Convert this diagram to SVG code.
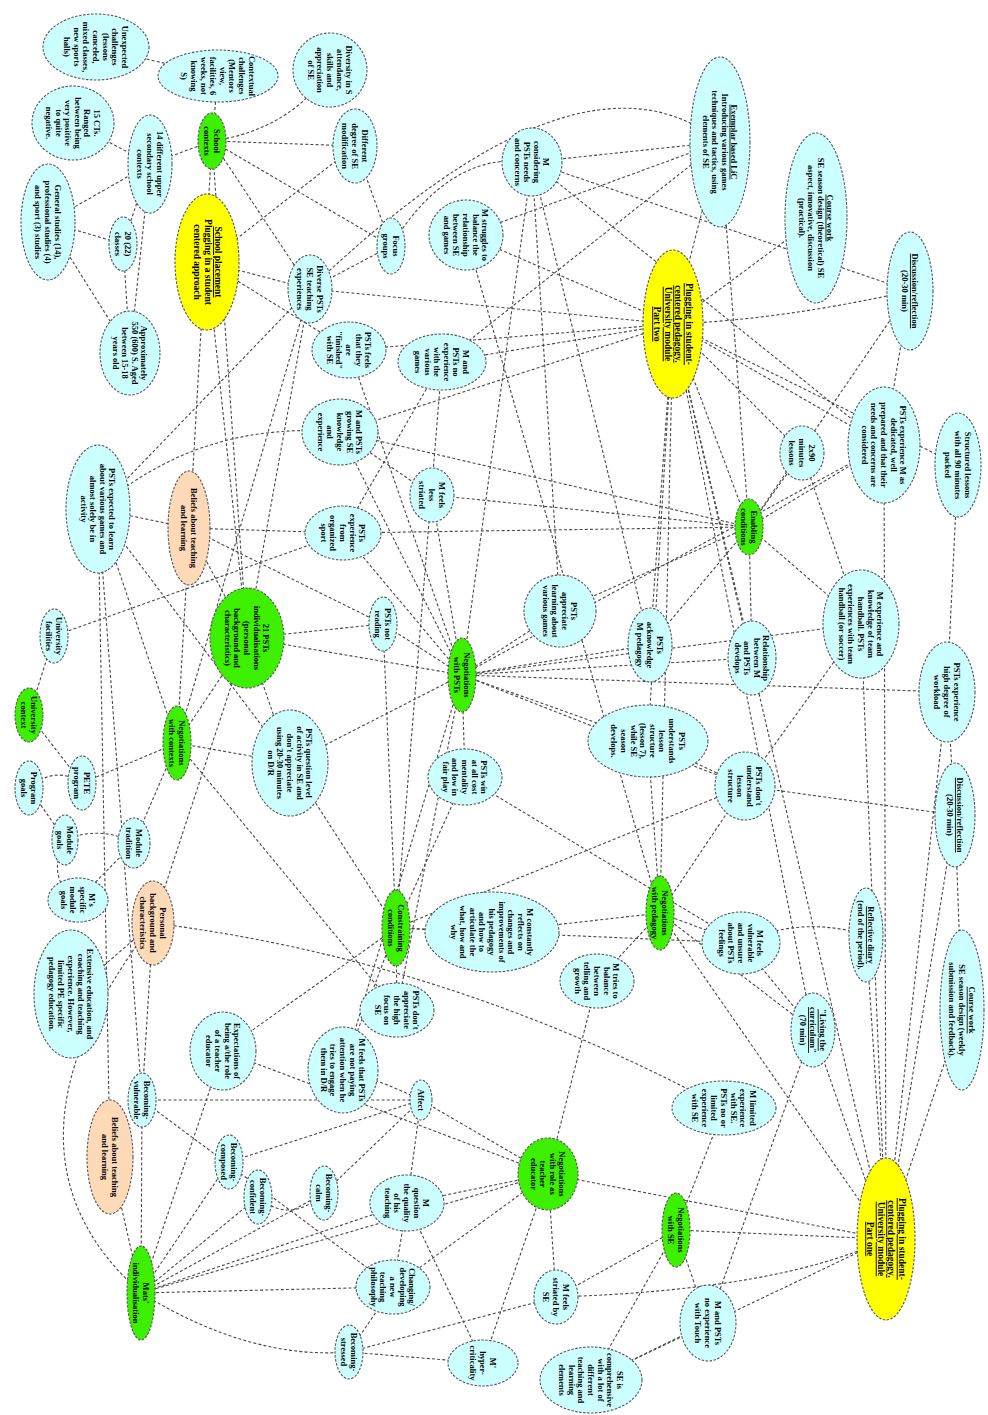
<svg xmlns="http://www.w3.org/2000/svg" width="988" height="1415" viewBox="0 0 988 1415">
<style>
.e{fill:none;stroke:#484848;stroke-width:1.1;stroke-dasharray:3 2.2}
.n ellipse{stroke:#555;stroke-width:1.1;stroke-dasharray:2.5 1.5}
.c{fill:#ccffff}.g{fill:#3cf000}.y{fill:#ffff00}.p{fill:#ffdab9}
text{font-family:"Liberation Serif","Times New Roman",serif;font-weight:bold;font-size:8.5px;text-anchor:middle;fill:#000}
.u{text-decoration:underline}
</style>
<rect width="988" height="1415" fill="#ffffff"/>
<g id="edges" class="e">
<line x1="96" y1="47" x2="218" y2="76"/>
<line x1="218" y1="76" x2="212" y2="141"/>
<path d="M330,70 Q290,130 212,141"/>
<line x1="355" y1="146" x2="212" y2="141"/>
<line x1="212" y1="141" x2="150" y2="164"/>
<line x1="73" y1="123" x2="150" y2="164"/>
<line x1="150" y1="164" x2="48" y2="222"/>
<line x1="150" y1="164" x2="123" y2="244"/>
<line x1="150" y1="164" x2="130" y2="353"/>
<line x1="48" y1="222" x2="123" y2="244"/>
<line x1="48" y1="222" x2="130" y2="353"/>
<line x1="123" y1="244" x2="130" y2="353"/>
<line x1="212" y1="141" x2="310" y2="289"/>
<line x1="212" y1="141" x2="391" y2="246"/>
<line x1="212" y1="141" x2="247" y2="638"/>
<line x1="212" y1="141" x2="177" y2="743"/>
<line x1="207" y1="262" x2="355" y2="146"/>
<line x1="355" y1="146" x2="391" y2="246"/>
<line x1="207" y1="262" x2="310" y2="289"/>
<line x1="207" y1="262" x2="247" y2="638"/>
<line x1="207" y1="262" x2="349" y2="350"/>
<line x1="310" y1="289" x2="391" y2="246"/>
<path d="M310,289 Q580,30 720,142"/>
<line x1="310" y1="289" x2="98" y2="509"/>
<line x1="310" y1="289" x2="673" y2="324"/>
<line x1="310" y1="289" x2="177" y2="743"/>
<line x1="310" y1="289" x2="247" y2="638"/>
<path d="M391,246 Q450,150 532,162"/>
<line x1="532" y1="162" x2="720" y2="142"/>
<line x1="532" y1="162" x2="910" y2="291"/>
<line x1="532" y1="162" x2="884" y2="445"/>
<line x1="532" y1="162" x2="560" y2="611"/>
<line x1="532" y1="162" x2="650" y2="645"/>
<line x1="532" y1="162" x2="462" y2="675"/>
<line x1="466" y1="235" x2="673" y2="324"/>
<line x1="466" y1="235" x2="660" y2="913"/>
<line x1="466" y1="235" x2="720" y2="142"/>
<line x1="673" y1="324" x2="720" y2="142"/>
<line x1="673" y1="324" x2="816" y2="218"/>
<path d="M673,324 Q780,320 910,291"/>
<line x1="673" y1="324" x2="802" y2="453"/>
<line x1="673" y1="324" x2="884" y2="445"/>
<line x1="673" y1="324" x2="958" y2="465"/>
<line x1="673" y1="324" x2="749" y2="527"/>
<line x1="673" y1="324" x2="340" y2="432"/>
<line x1="673" y1="324" x2="650" y2="645"/>
<line x1="673" y1="324" x2="648" y2="741"/>
<line x1="673" y1="324" x2="752" y2="658"/>
<line x1="673" y1="324" x2="660" y2="913"/>
<line x1="673" y1="324" x2="813" y2="1030"/>
<line x1="673" y1="324" x2="349" y2="350"/>
<line x1="673" y1="324" x2="442" y2="362"/>
<line x1="673" y1="324" x2="886" y2="1239"/>
<line x1="720" y1="142" x2="442" y2="362"/>
<line x1="720" y1="142" x2="749" y2="527"/>
<line x1="910" y1="291" x2="884" y2="445"/>
<line x1="910" y1="291" x2="749" y2="527"/>
<line x1="958" y1="465" x2="947" y2="692"/>
<line x1="884" y1="445" x2="749" y2="527"/>
<line x1="884" y1="445" x2="886" y2="1239"/>
<line x1="884" y1="445" x2="462" y2="675"/>
<line x1="802" y1="453" x2="749" y2="527"/>
<line x1="802" y1="453" x2="861" y2="624"/>
<line x1="861" y1="624" x2="749" y2="527"/>
<line x1="861" y1="624" x2="462" y2="675"/>
<line x1="861" y1="624" x2="886" y2="1239"/>
<line x1="861" y1="624" x2="745" y2="786"/>
<line x1="752" y1="658" x2="749" y2="527"/>
<line x1="752" y1="658" x2="462" y2="675"/>
<line x1="947" y1="692" x2="955" y2="815"/>
<line x1="947" y1="692" x2="462" y2="675"/>
<line x1="947" y1="692" x2="886" y2="1239"/>
<line x1="955" y1="815" x2="962" y2="1010"/>
<line x1="955" y1="815" x2="745" y2="786"/>
<line x1="955" y1="815" x2="886" y2="1239"/>
<path d="M866,935 Q800,915 741,943"/>
<line x1="866" y1="935" x2="886" y2="1239"/>
<line x1="962" y1="1010" x2="886" y2="1239"/>
<line x1="813" y1="1030" x2="660" y2="913"/>
<line x1="813" y1="1030" x2="741" y2="943"/>
<line x1="813" y1="1030" x2="886" y2="1239"/>
<line x1="724" y1="1108" x2="676" y2="1230"/>
<path d="M153,923 Q450,960 724,1108"/>
<line x1="886" y1="1239" x2="676" y2="1230"/>
<line x1="886" y1="1239" x2="548" y2="1174"/>
<path d="M886,1239 Q780,1290 556,1297"/>
<line x1="886" y1="1239" x2="660" y2="913"/>
<line x1="886" y1="1239" x2="591" y2="1380"/>
<line x1="676" y1="1230" x2="708" y2="1323"/>
<line x1="676" y1="1230" x2="556" y2="1297"/>
<line x1="676" y1="1230" x2="591" y2="1380"/>
<line x1="708" y1="1323" x2="591" y2="1380"/>
<line x1="708" y1="1323" x2="813" y2="1030"/>
<line x1="548" y1="1174" x2="421" y2="1100"/>
<line x1="548" y1="1174" x2="407" y2="1203"/>
<line x1="548" y1="1174" x2="556" y2="1297"/>
<line x1="548" y1="1174" x2="393" y2="1287"/>
<line x1="548" y1="1174" x2="223" y2="1051"/>
<line x1="548" y1="1174" x2="141" y2="1293"/>
<line x1="548" y1="1174" x2="597" y2="981"/>
<line x1="548" y1="1174" x2="483" y2="1363"/>
<path d="M421,1100 Q380,1080 343,1070"/>
<line x1="421" y1="1100" x2="142" y2="1100"/>
<line x1="421" y1="1100" x2="229" y2="1162"/>
<line x1="421" y1="1100" x2="324" y2="1193"/>
<line x1="421" y1="1100" x2="407" y2="1203"/>
<line x1="407" y1="1203" x2="393" y2="1287"/>
<line x1="407" y1="1203" x2="483" y2="1363"/>
<line x1="407" y1="1203" x2="141" y2="1293"/>
<line x1="393" y1="1287" x2="349" y2="1352"/>
<line x1="393" y1="1287" x2="141" y2="1293"/>
<line x1="393" y1="1287" x2="142" y2="1100"/>
<line x1="556" y1="1297" x2="349" y2="1352"/>
<line x1="349" y1="1352" x2="483" y2="1363"/>
<path d="M349,1352 Q250,1360 141,1293"/>
<line x1="142" y1="1100" x2="141" y2="1293"/>
<line x1="110" y1="1157" x2="141" y2="1293"/>
<line x1="229" y1="1162" x2="141" y2="1293"/>
<line x1="258" y1="1197" x2="141" y2="1293"/>
<path d="M258,1197 Q290,1225 324,1193"/>
<line x1="324" y1="1193" x2="141" y2="1293"/>
<line x1="141" y1="1293" x2="223" y2="1051"/>
<path d="M141,1293 Q-20,1150 153,923"/>
<line x1="223" y1="1051" x2="396" y2="928"/>
<line x1="343" y1="1070" x2="396" y2="928"/>
<line x1="153" y1="923" x2="71" y2="994"/>
<line x1="153" y1="923" x2="247" y2="638"/>
<line x1="153" y1="923" x2="142" y2="1100"/>
<line x1="29" y1="715" x2="54" y2="636"/>
<line x1="29" y1="715" x2="82" y2="783"/>
<path d="M82,783 Q55,765 29,788"/>
<line x1="82" y1="783" x2="177" y2="743"/>
<line x1="29" y1="788" x2="65" y2="840"/>
<path d="M65,840 Q100,825 134,843"/>
<line x1="134" y1="843" x2="177" y2="743"/>
<line x1="134" y1="843" x2="78" y2="900"/>
<path d="M65,840 Q45,880 78,900"/>
<line x1="177" y1="743" x2="290" y2="763"/>
<line x1="177" y1="743" x2="247" y2="638"/>
<line x1="177" y1="743" x2="98" y2="509"/>
<line x1="177" y1="743" x2="397" y2="1010"/>
<line x1="247" y1="638" x2="189" y2="528"/>
<line x1="247" y1="638" x2="383" y2="624"/>
<line x1="247" y1="638" x2="462" y2="675"/>
<line x1="247" y1="638" x2="290" y2="763"/>
<line x1="54" y1="636" x2="343" y2="533"/>
<line x1="189" y1="528" x2="98" y2="509"/>
<line x1="189" y1="528" x2="343" y2="533"/>
<line x1="189" y1="528" x2="383" y2="624"/>
<path d="M98,509 Q200,420 340,432"/>
<line x1="98" y1="509" x2="290" y2="763"/>
<line x1="98" y1="509" x2="110" y2="1157"/>
<line x1="98" y1="509" x2="142" y2="1100"/>
<line x1="462" y1="675" x2="349" y2="350"/>
<line x1="462" y1="675" x2="340" y2="432"/>
<line x1="462" y1="675" x2="432" y2="495"/>
<line x1="462" y1="675" x2="343" y2="533"/>
<line x1="462" y1="675" x2="383" y2="624"/>
<line x1="462" y1="675" x2="560" y2="611"/>
<line x1="462" y1="675" x2="650" y2="645"/>
<line x1="462" y1="675" x2="465" y2="777"/>
<line x1="462" y1="675" x2="648" y2="741"/>
<line x1="462" y1="675" x2="745" y2="786"/>
<line x1="462" y1="675" x2="290" y2="763"/>
<line x1="462" y1="675" x2="397" y2="1010"/>
<line x1="462" y1="675" x2="343" y2="1070"/>
<line x1="749" y1="527" x2="650" y2="645"/>
<line x1="749" y1="527" x2="560" y2="611"/>
<line x1="749" y1="527" x2="340" y2="432"/>
<line x1="749" y1="527" x2="343" y2="533"/>
<line x1="749" y1="527" x2="432" y2="495"/>
<line x1="340" y1="432" x2="432" y2="495"/>
<line x1="396" y1="928" x2="492" y2="932"/>
<line x1="396" y1="928" x2="397" y2="1010"/>
<line x1="396" y1="928" x2="465" y2="777"/>
<line x1="396" y1="928" x2="383" y2="624"/>
<line x1="396" y1="928" x2="290" y2="763"/>
<line x1="396" y1="928" x2="745" y2="786"/>
<line x1="396" y1="928" x2="741" y2="943"/>
<line x1="396" y1="928" x2="442" y2="362"/>
<line x1="660" y1="913" x2="492" y2="932"/>
<line x1="660" y1="913" x2="597" y2="981"/>
<line x1="660" y1="913" x2="741" y2="943"/>
<line x1="660" y1="913" x2="648" y2="741"/>
<line x1="660" y1="913" x2="745" y2="786"/>
<line x1="648" y1="741" x2="745" y2="786"/>
<line x1="465" y1="777" x2="741" y2="943"/>
<line x1="442" y1="362" x2="343" y2="533"/>
</g>
<g id="n1" class="n"><ellipse class="c" cx="96" cy="47" rx="53" ry="33"/><text transform="translate(96,47) rotate(90)"><tspan x="0" y="-25.8">Unexpected</tspan><tspan x="0" dy="9.6">challenges</tspan><tspan x="0" dy="9.6">(lessons</tspan><tspan x="0" dy="9.6">canceled,</tspan><tspan x="0" dy="9.6">mixed classes,</tspan><tspan x="0" dy="9.6">new sports</tspan><tspan x="0" dy="9.6">halls)</tspan></text></g>
<g id="n2" class="n"><ellipse class="c" cx="218" cy="76" rx="60" ry="26"/><text transform="translate(218,76) rotate(90)"><tspan x="0" y="-30.6">Contextual</tspan><tspan x="0" dy="9.6">challenges</tspan><tspan x="0" dy="9.6">(Mentors</tspan><tspan x="0" dy="9.6">view,</tspan><tspan x="0" dy="9.6">facilities, 6</tspan><tspan x="0" dy="9.6">weeks, not</tspan><tspan x="0" dy="9.6">knowing</tspan><tspan x="0" dy="9.6">S)</tspan></text></g>
<g id="n3" class="n"><ellipse class="c" cx="330" cy="70" rx="37" ry="37"/><text transform="translate(330,70) rotate(90)"><tspan x="0" y="-16.2">Diversity in S</tspan><tspan x="0" dy="9.6">attendance,</tspan><tspan x="0" dy="9.6">skills and</tspan><tspan x="0" dy="9.6">appreciation</tspan><tspan x="0" dy="9.6">of SE</tspan></text></g>
<g id="n4" class="n"><ellipse class="c" cx="355" cy="146" rx="22" ry="37"/><text transform="translate(355,146) rotate(90)"><tspan x="0" y="-6.6">Different</tspan><tspan x="0" dy="9.6">degree of SE</tspan><tspan x="0" dy="9.6">modification</tspan></text></g>
<g id="n5" class="n"><ellipse class="g" cx="212" cy="141" rx="14" ry="28"/><text transform="translate(212,141) rotate(90)"><tspan x="0" y="-1.8">School</tspan><tspan x="0" dy="9.6">contexts</tspan></text></g>
<g id="n6" class="n"><ellipse class="c" cx="73" cy="123" rx="41" ry="37"/><text transform="translate(73,123) rotate(90)"><tspan x="0" y="-21">15 CTs.</tspan><tspan x="0" dy="9.6">Ranged</tspan><tspan x="0" dy="9.6">between being</tspan><tspan x="0" dy="9.6">very positive</tspan><tspan x="0" dy="9.6">to quite</tspan><tspan x="0" dy="9.6">negative.</tspan></text></g>
<g id="n7" class="n"><ellipse class="c" cx="150" cy="164" rx="22" ry="49"/><text transform="translate(150,164) rotate(90)"><tspan x="0" y="-6.6">14 different upper</tspan><tspan x="0" dy="9.6">secondary school</tspan><tspan x="0" dy="9.6">contexts</tspan></text></g>
<g id="n8" class="n"><ellipse class="c" cx="48" cy="222" rx="27" ry="58"/><text transform="translate(48,222) rotate(90)"><tspan x="0" y="-6.6">General studies (14),</tspan><tspan x="0" dy="9.6">professional studies (4)</tspan><tspan x="0" dy="9.6">and sport (3) studies</tspan></text></g>
<g id="n9" class="n"><ellipse class="c" cx="123" cy="244" rx="14" ry="27"/><text transform="translate(123,244) rotate(90)"><tspan x="0" y="-1.8">20 (22)</tspan><tspan x="0" dy="9.6">classes</tspan></text></g>
<g id="n10" class="n"><ellipse class="y" cx="207" cy="262" rx="32" ry="68"/><text transform="translate(207,262) rotate(90)" style="font-size:9.5px"><tspan x="0" y="-8" class="u">School placement</tspan><tspan x="0" dy="10.5">Plugging in a student</tspan><tspan x="0" dy="10.5">centered approach</tspan></text></g>
<g id="n11" class="n"><ellipse class="c" cx="130" cy="353" rx="30" ry="42"/><text transform="translate(130,353) rotate(90)"><tspan x="0" y="-11.4">Approximately</tspan><tspan x="0" dy="9.6">550 (600) S. Aged</tspan><tspan x="0" dy="9.6">between 15-18</tspan><tspan x="0" dy="9.6">years old</tspan></text></g>
<g id="n12" class="n"><ellipse class="c" cx="310" cy="289" rx="22" ry="34"/><text transform="translate(310,289) rotate(90)"><tspan x="0" y="-6.6">Diverse PSTs</tspan><tspan x="0" dy="9.6">SE teaching</tspan><tspan x="0" dy="9.6">experiences</tspan></text></g>
<g id="n13" class="n"><ellipse class="c" cx="391" cy="246" rx="14" ry="28"/><text transform="translate(391,246) rotate(90)"><tspan x="0" y="-1.8">Focus</tspan><tspan x="0" dy="9.6">groups</tspan></text></g>
<g id="n14" class="n"><ellipse class="c" cx="532" cy="162" rx="30" ry="34"/><text transform="translate(532,162) rotate(90)"><tspan x="0" y="-11.4">M</tspan><tspan x="0" dy="9.6">considering</tspan><tspan x="0" dy="9.6">PSTs needs</tspan><tspan x="0" dy="9.6">and concerns</tspan></text></g>
<g id="n15" class="n"><ellipse class="c" cx="466" cy="235" rx="37" ry="35"/><text transform="translate(466,235) rotate(90)"><tspan x="0" y="-16.2">M struggles to</tspan><tspan x="0" dy="9.6">balance the</tspan><tspan x="0" dy="9.6">relationship</tspan><tspan x="0" dy="9.6">between SE</tspan><tspan x="0" dy="9.6">and games</tspan></text></g>
<g id="n16" class="n"><ellipse class="c" cx="720" cy="142" rx="30" ry="85"/><text transform="translate(720,142) rotate(90)"><tspan x="0" y="-11.4" class="u">Exemplar based LiC</tspan><tspan x="0" dy="9.6">Introducing various games</tspan><tspan x="0" dy="9.6">techniques and tactics, using</tspan><tspan x="0" dy="9.6">elements of SE</tspan></text></g>
<g id="n17" class="n"><ellipse class="c" cx="816" cy="218" rx="31" ry="85"/><text transform="translate(816,218) rotate(90)"><tspan x="0" y="-11.4" class="u">Course work</tspan><tspan x="0" dy="9.6">SE season design (theoretical) SE</tspan><tspan x="0" dy="9.6">aspect, innovative, discussion</tspan><tspan x="0" dy="9.6">(practical).</tspan></text></g>
<g id="n18" class="n"><ellipse class="c" cx="910" cy="291" rx="23" ry="59"/><text transform="translate(910,291) rotate(90)"><tspan x="0" y="-1.8" class="u">Discussion/reflection</tspan><tspan x="0" dy="9.6">(20-30 min)</tspan></text></g>
<g id="n19" class="n"><ellipse class="y" cx="673" cy="324" rx="30" ry="74"/><text transform="translate(673,324) rotate(90)" style="font-size:9.5px"><tspan x="0" y="-12.7" class="u">Plugging in student-</tspan><tspan x="0" dy="10.5" class="u">centered pedagogy.</tspan><tspan x="0" dy="10.5" class="u">University module</tspan><tspan x="0" dy="10.5" class="u">Part two</tspan></text></g>
<g id="n20" class="n"><ellipse class="c" cx="349" cy="350" rx="37" ry="28"/><text transform="translate(349,350) rotate(90)"><tspan x="0" y="-16.2">PSTs feels</tspan><tspan x="0" dy="9.6">that they</tspan><tspan x="0" dy="9.6">are</tspan><tspan x="0" dy="9.6">"finished"</tspan><tspan x="0" dy="9.6">with SE</tspan></text></g>
<g id="n21" class="n"><ellipse class="c" cx="442" cy="362" rx="44" ry="28"/><text transform="translate(442,362) rotate(90)"><tspan x="0" y="-21">M and</tspan><tspan x="0" dy="9.6">PSTs no</tspan><tspan x="0" dy="9.6">experience</tspan><tspan x="0" dy="9.6">with the</tspan><tspan x="0" dy="9.6">various</tspan><tspan x="0" dy="9.6">games</tspan></text></g>
<g id="n22" class="n"><ellipse class="c" cx="340" cy="432" rx="38" ry="33"/><text transform="translate(340,432) rotate(90)"><tspan x="0" y="-16.2">M and PSTs</tspan><tspan x="0" dy="9.6">growing SE</tspan><tspan x="0" dy="9.6">knowledge</tspan><tspan x="0" dy="9.6">and</tspan><tspan x="0" dy="9.6">experience</tspan></text></g>
<g id="n23" class="n"><ellipse class="c" cx="432" cy="495" rx="22" ry="27"/><text transform="translate(432,495) rotate(90)"><tspan x="0" y="-6.6">M feels</tspan><tspan x="0" dy="9.6">less</tspan><tspan x="0" dy="9.6">striated</tspan></text></g>
<g id="n24" class="n"><ellipse class="c" cx="343" cy="533" rx="38" ry="27"/><text transform="translate(343,533) rotate(90)"><tspan x="0" y="-16.2">PSTs</tspan><tspan x="0" dy="9.6">experience</tspan><tspan x="0" dy="9.6">from</tspan><tspan x="0" dy="9.6">organized</tspan><tspan x="0" dy="9.6">sport</tspan></text></g>
<g id="n25" class="n"><ellipse class="c" cx="383" cy="624" rx="14" ry="27"/><text transform="translate(383,624) rotate(90)"><tspan x="0" y="-1.8">PSTs not</tspan><tspan x="0" dy="9.6">reading</tspan></text></g>
<g id="n26" class="n"><ellipse class="c" cx="560" cy="611" rx="36" ry="36"/><text transform="translate(560,611) rotate(90)"><tspan x="0" y="-11.4">PSTs</tspan><tspan x="0" dy="9.6">appreciate</tspan><tspan x="0" dy="9.6">learning about</tspan><tspan x="0" dy="9.6">various games</tspan></text></g>
<g id="n27" class="n"><ellipse class="g" cx="462" cy="675" rx="14" ry="37"/><text transform="translate(462,675) rotate(90)"><tspan x="0" y="-1.8">Negotiations</tspan><tspan x="0" dy="9.6">with PSTs</tspan></text></g>
<g id="n28" class="n"><ellipse class="c" cx="650" cy="645" rx="22" ry="37"/><text transform="translate(650,645) rotate(90)"><tspan x="0" y="-6.6">PSTs</tspan><tspan x="0" dy="9.6">acknowledge</tspan><tspan x="0" dy="9.6">M pedagogy</tspan></text></g>
<g id="n29" class="n"><ellipse class="p" cx="189" cy="528" rx="21" ry="57"/><text transform="translate(189,528) rotate(90)"><tspan x="0" y="-1.8">Beliefs about teaching</tspan><tspan x="0" dy="9.6">and learning</tspan></text></g>
<g id="n30" class="n"><ellipse class="c" cx="98" cy="509" rx="32" ry="64"/><text transform="translate(98,509) rotate(90)"><tspan x="0" y="-11.4">PSTs expected to learn</tspan><tspan x="0" dy="9.6">about various games and</tspan><tspan x="0" dy="9.6">almost solely be in</tspan><tspan x="0" dy="9.6">activity</tspan></text></g>
<g id="n31" class="n"><ellipse class="g" cx="247" cy="638" rx="37" ry="50"/><text transform="translate(247,638) rotate(90)"><tspan x="0" y="-16.2">21 PSTs</tspan><tspan x="0" dy="9.6">individualisations</tspan><tspan x="0" dy="9.6">(personal</tspan><tspan x="0" dy="9.6">background and</tspan><tspan x="0" dy="9.6">characteristics)</tspan></text></g>
<g id="n32" class="n"><ellipse class="c" cx="54" cy="636" rx="14" ry="27"/><text transform="translate(54,636) rotate(90)"><tspan x="0" y="-1.8">University</tspan><tspan x="0" dy="9.6">facilities</tspan></text></g>
<g id="n33" class="n"><ellipse class="g" cx="29" cy="715" rx="14" ry="27"/><text transform="translate(29,715) rotate(90)"><tspan x="0" y="-1.8">University</tspan><tspan x="0" dy="9.6">context</tspan></text></g>
<g id="n34" class="n"><ellipse class="g" cx="177" cy="743" rx="14" ry="37"/><text transform="translate(177,743) rotate(90)"><tspan x="0" y="-1.8">Negotiations</tspan><tspan x="0" dy="9.6">with contexts</tspan></text></g>
<g id="n35" class="n"><ellipse class="c" cx="290" cy="763" rx="38" ry="53"/><text transform="translate(290,763) rotate(90)"><tspan x="0" y="-16.2">PSTs question level</tspan><tspan x="0" dy="9.6">of activity in SE and</tspan><tspan x="0" dy="9.6">don't appreciate</tspan><tspan x="0" dy="9.6">using 20-30 minutes</tspan><tspan x="0" dy="9.6">on D/R</tspan></text></g>
<g id="n36" class="n"><ellipse class="c" cx="82" cy="783" rx="14" ry="27"/><text transform="translate(82,783) rotate(90)"><tspan x="0" y="-1.8">PETE</tspan><tspan x="0" dy="9.6">program</tspan></text></g>
<g id="n37" class="n"><ellipse class="c" cx="29" cy="788" rx="14" ry="27"/><text transform="translate(29,788) rotate(90)"><tspan x="0" y="-1.8">Program</tspan><tspan x="0" dy="9.6">goals</tspan></text></g>
<g id="n38" class="n"><ellipse class="c" cx="65" cy="840" rx="13" ry="25"/><text transform="translate(65,840) rotate(90)"><tspan x="0" y="-1.8">Module</tspan><tspan x="0" dy="9.6">goals</tspan></text></g>
<g id="n39" class="n"><ellipse class="c" cx="134" cy="843" rx="16" ry="25"/><text transform="translate(134,843) rotate(90)"><tspan x="0" y="-1.8">Module</tspan><tspan x="0" dy="9.6">tradition</tspan></text></g>
<g id="n40" class="n"><ellipse class="c" cx="78" cy="900" rx="30" ry="22"/><text transform="translate(78,900) rotate(90)"><tspan x="0" y="-11.4">M's</tspan><tspan x="0" dy="9.6">specific</tspan><tspan x="0" dy="9.6">module</tspan><tspan x="0" dy="9.6">goals</tspan></text></g>
<g id="n41" class="n"><ellipse class="p" cx="153" cy="923" rx="21" ry="42"/><text transform="translate(153,923) rotate(90)"><tspan x="0" y="-6.6">Personal</tspan><tspan x="0" dy="9.6">background and</tspan><tspan x="0" dy="9.6">characteristics</tspan></text></g>
<g id="n42" class="n"><ellipse class="c" cx="71" cy="994" rx="37" ry="64"/><text transform="translate(71,994) rotate(90)"><tspan x="0" y="-16.2">Extensive education, and</tspan><tspan x="0" dy="9.6">coaching and teaching</tspan><tspan x="0" dy="9.6">experience. However,</tspan><tspan x="0" dy="9.6">limited PE specific</tspan><tspan x="0" dy="9.6">pedagogy education.</tspan></text></g>
<g id="n43" class="n"><ellipse class="c" cx="223" cy="1051" rx="33" ry="39"/><text transform="translate(223,1051) rotate(90)"><tspan x="0" y="-11.4">Expectations of</tspan><tspan x="0" dy="9.6">being a/the role</tspan><tspan x="0" dy="9.6">of a teacher</tspan><tspan x="0" dy="9.6">educator</tspan></text></g>
<g id="n44" class="n"><ellipse class="c" cx="343" cy="1070" rx="35" ry="43"/><text transform="translate(343,1070) rotate(90)"><tspan x="0" y="-16.2">M feels that PSTs</tspan><tspan x="0" dy="9.6">are not paying</tspan><tspan x="0" dy="9.6">attention when he</tspan><tspan x="0" dy="9.6">tries to engage</tspan><tspan x="0" dy="9.6">them in D/R</tspan></text></g>
<g id="n45" class="n"><ellipse class="c" cx="465" cy="777" rx="37" ry="28"/><text transform="translate(465,777) rotate(90)"><tspan x="0" y="-16.2">PSTs win</tspan><tspan x="0" dy="9.6">at all cost</tspan><tspan x="0" dy="9.6">mentality</tspan><tspan x="0" dy="9.6">and low in</tspan><tspan x="0" dy="9.6">fair play</tspan></text></g>
<g id="n46" class="n"><ellipse class="c" cx="648" cy="741" rx="60" ry="36"/><text transform="translate(648,741) rotate(90)"><tspan x="0" y="-30.6">PSTs</tspan><tspan x="0" dy="9.6">understands</tspan><tspan x="0" dy="9.6">lesson</tspan><tspan x="0" dy="9.6">structure</tspan><tspan x="0" dy="9.6">(lesson 7),</tspan><tspan x="0" dy="9.6">while SE</tspan><tspan x="0" dy="9.6">season</tspan><tspan x="0" dy="9.6">develops.</tspan></text></g>
<g id="n47" class="n"><ellipse class="g" cx="396" cy="928" rx="14" ry="38"/><text transform="translate(396,928) rotate(90)"><tspan x="0" y="-1.8">Constraining</tspan><tspan x="0" dy="9.6">conditions</tspan></text></g>
<g id="n48" class="n"><ellipse class="c" cx="492" cy="932" rx="67" ry="40"/><text transform="translate(492,932) rotate(90)"><tspan x="0" y="-35.4">M constantly</tspan><tspan x="0" dy="9.6">reflects on</tspan><tspan x="0" dy="9.6">changes and</tspan><tspan x="0" dy="9.6">improvements of</tspan><tspan x="0" dy="9.6">his pedagogy</tspan><tspan x="0" dy="9.6">and how to</tspan><tspan x="0" dy="9.6">articulate the</tspan><tspan x="0" dy="9.6">what, how and</tspan><tspan x="0" dy="9.6">why</tspan></text></g>
<g id="n49" class="n"><ellipse class="c" cx="597" cy="981" rx="37" ry="27"/><text transform="translate(597,981) rotate(90)"><tspan x="0" y="-16.2">M tries to</tspan><tspan x="0" dy="9.6">balance</tspan><tspan x="0" dy="9.6">between</tspan><tspan x="0" dy="9.6">telling and</tspan><tspan x="0" dy="9.6">growth</tspan></text></g>
<g id="n50" class="n"><ellipse class="c" cx="397" cy="1010" rx="37" ry="27"/><text transform="translate(397,1010) rotate(90)"><tspan x="0" y="-16.2">PSTs don't</tspan><tspan x="0" dy="9.6">appreciate</tspan><tspan x="0" dy="9.6">the high</tspan><tspan x="0" dy="9.6">focus on</tspan><tspan x="0" dy="9.6">SE</tspan></text></g>
<g id="n51" class="n"><ellipse class="g" cx="660" cy="913" rx="14" ry="37"/><text transform="translate(660,913) rotate(90)"><tspan x="0" y="-1.8">Negotiations</tspan><tspan x="0" dy="9.6">with pedagogy</tspan></text></g>
<g id="n52" class="n"><ellipse class="c" cx="741" cy="943" rx="39" ry="31"/><text transform="translate(741,943) rotate(90)"><tspan x="0" y="-16.2">M feels</tspan><tspan x="0" dy="9.6">vulnerable</tspan><tspan x="0" dy="9.6">and unsure</tspan><tspan x="0" dy="9.6">about PSTs</tspan><tspan x="0" dy="9.6">feelings</tspan></text></g>
<g id="n53" class="n"><ellipse class="c" cx="745" cy="786" rx="30" ry="34"/><text transform="translate(745,786) rotate(90)"><tspan x="0" y="-11.4">PSTs don't</tspan><tspan x="0" dy="9.6">understand</tspan><tspan x="0" dy="9.6">lesson</tspan><tspan x="0" dy="9.6">structure</tspan></text></g>
<g id="n54" class="n"><ellipse class="c" cx="752" cy="658" rx="24" ry="37"/><text transform="translate(752,658) rotate(90)"><tspan x="0" y="-11.4">Relationship</tspan><tspan x="0" dy="9.6">between M</tspan><tspan x="0" dy="9.6">and PSTs</tspan><tspan x="0" dy="9.6">develops</tspan></text></g>
<g id="n55" class="n"><ellipse class="c" cx="861" cy="624" rx="38" ry="54"/><text transform="translate(861,624) rotate(90)"><tspan x="0" y="-16.2">M experience and</tspan><tspan x="0" dy="9.6">knowledge of team</tspan><tspan x="0" dy="9.6">handball. PSTs</tspan><tspan x="0" dy="9.6">experiences with team</tspan><tspan x="0" dy="9.6">handball (or soccer)</tspan></text></g>
<g id="n56" class="n"><ellipse class="g" cx="749" cy="527" rx="14" ry="28"/><text transform="translate(749,527) rotate(90)"><tspan x="0" y="-1.8">Enabling</tspan><tspan x="0" dy="9.6">conditions</tspan></text></g>
<g id="n57" class="n"><ellipse class="c" cx="802" cy="453" rx="22" ry="27"/><text transform="translate(802,453) rotate(90)"><tspan x="0" y="-6.6">2x90</tspan><tspan x="0" dy="9.6">minutes</tspan><tspan x="0" dy="9.6">lessons</tspan></text></g>
<g id="n58" class="n"><ellipse class="c" cx="884" cy="445" rx="36" ry="58"/><text transform="translate(884,445) rotate(90)"><tspan x="0" y="-16.2">PSTs experience M as</tspan><tspan x="0" dy="9.6">dedicated, well</tspan><tspan x="0" dy="9.6">prepared and that their</tspan><tspan x="0" dy="9.6">needs and concerns are</tspan><tspan x="0" dy="9.6">considered</tspan></text></g>
<g id="n59" class="n"><ellipse class="c" cx="958" cy="465" rx="23" ry="52"/><text transform="translate(958,465) rotate(90)"><tspan x="0" y="-6.6">Structured lessons</tspan><tspan x="0" dy="9.6">with all 90 minutes</tspan><tspan x="0" dy="9.6">packed</tspan></text></g>
<g id="n60" class="n"><ellipse class="c" cx="947" cy="692" rx="28" ry="50"/><text transform="translate(947,692) rotate(90)"><tspan x="0" y="-6.6">PSTs experience</tspan><tspan x="0" dy="9.6">high degree of</tspan><tspan x="0" dy="9.6">workload</tspan></text></g>
<g id="n61" class="n"><ellipse class="c" cx="955" cy="815" rx="20" ry="52"/><text transform="translate(955,815) rotate(90)"><tspan x="0" y="-1.8" class="u">Discussion/reflection</tspan><tspan x="0" dy="9.6">(20-30 min)</tspan></text></g>
<g id="n62" class="n"><ellipse class="c" cx="866" cy="935" rx="17" ry="47"/><text transform="translate(866,935) rotate(90)"><tspan x="0" y="-1.8" class="u">Reflective diary</tspan><tspan x="0" dy="9.6">(end of the period).</tspan></text></g>
<g id="n63" class="n"><ellipse class="c" cx="962" cy="1010" rx="22" ry="80"/><text transform="translate(962,1010) rotate(90)"><tspan x="0" y="-6.6" class="u">Course work</tspan><tspan x="0" dy="9.6">SE season design (weekly</tspan><tspan x="0" dy="9.6">submission and feedback).</tspan></text></g>
<g id="n64" class="n"><ellipse class="c" cx="813" cy="1030" rx="22" ry="37"/><text transform="translate(813,1030) rotate(90)"><tspan x="0" y="-6.6" class="u">"Living the</tspan><tspan x="0" dy="9.6" class="u">curriculum"</tspan><tspan x="0" dy="9.6">(70 min)</tspan></text></g>
<g id="n65" class="n"><ellipse class="c" cx="724" cy="1108" rx="52" ry="27"/><text transform="translate(724,1108) rotate(90)"><tspan x="0" y="-25.8">M limited</tspan><tspan x="0" dy="9.6">experience</tspan><tspan x="0" dy="9.6">with SE.</tspan><tspan x="0" dy="9.6">PSTs no or</tspan><tspan x="0" dy="9.6">limited</tspan><tspan x="0" dy="9.6">experience</tspan><tspan x="0" dy="9.6">with SE</tspan></text></g>
<g id="n66" class="n"><ellipse class="y" cx="886" cy="1239" rx="29" ry="81"/><text transform="translate(886,1239) rotate(90)" style="font-size:9.5px"><tspan x="0" y="-12.7" class="u">Plugging in student-</tspan><tspan x="0" dy="10.5" class="u">centered pedagogy.</tspan><tspan x="0" dy="10.5" class="u">University module</tspan><tspan x="0" dy="10.5" class="u">Part one</tspan></text></g>
<g id="n67" class="n"><ellipse class="g" cx="676" cy="1230" rx="14" ry="37"/><text transform="translate(676,1230) rotate(90)"><tspan x="0" y="-1.8">Negotiations</tspan><tspan x="0" dy="9.6">with SE</tspan></text></g>
<g id="n68" class="n"><ellipse class="c" cx="708" cy="1323" rx="28" ry="38"/><text transform="translate(708,1323) rotate(90)"><tspan x="0" y="-6.6">M and PSTs</tspan><tspan x="0" dy="9.6">no experience</tspan><tspan x="0" dy="9.6">with Touch</tspan></text></g>
<g id="n69" class="n"><ellipse class="g" cx="548" cy="1174" rx="30" ry="36"/><text transform="translate(548,1174) rotate(90)"><tspan x="0" y="-11.4">Negotiations</tspan><tspan x="0" dy="9.6">with role as</tspan><tspan x="0" dy="9.6">teacher</tspan><tspan x="0" dy="9.6">educator</tspan></text></g>
<g id="n70" class="n"><ellipse class="c" cx="421" cy="1100" rx="11" ry="20"/><text transform="translate(421,1100) rotate(90)"><tspan x="0" y="3">Affect</tspan></text></g>
<g id="n71" class="n"><ellipse class="c" cx="407" cy="1203" rx="37" ry="28"/><text transform="translate(407,1203) rotate(90)"><tspan x="0" y="-16.2">M</tspan><tspan x="0" dy="9.6">question</tspan><tspan x="0" dy="9.6">the quality</tspan><tspan x="0" dy="9.6">of his</tspan><tspan x="0" dy="9.6">teaching</tspan></text></g>
<g id="n72" class="n"><ellipse class="c" cx="393" cy="1287" rx="37" ry="27"/><text transform="translate(393,1287) rotate(90)"><tspan x="0" y="-16.2">Changing/</tspan><tspan x="0" dy="9.6">developing</tspan><tspan x="0" dy="9.6">a new</tspan><tspan x="0" dy="9.6">teaching</tspan><tspan x="0" dy="9.6">philosophy</tspan></text></g>
<g id="n73" class="n"><ellipse class="c" cx="556" cy="1297" rx="22" ry="27"/><text transform="translate(556,1297) rotate(90)"><tspan x="0" y="-6.6">M feels</tspan><tspan x="0" dy="9.6">striated by</tspan><tspan x="0" dy="9.6">SE</tspan></text></g>
<g id="n74" class="n"><ellipse class="c" cx="349" cy="1352" rx="14" ry="27"/><text transform="translate(349,1352) rotate(90)"><tspan x="0" y="-1.8">Becoming-</tspan><tspan x="0" dy="9.6">stressed</tspan></text></g>
<g id="n75" class="n"><ellipse class="c" cx="483" cy="1363" rx="35" ry="23"/><text transform="translate(483,1363) rotate(90)"><tspan x="0" y="-6.6">M'</tspan><tspan x="0" dy="9.6">hyper-</tspan><tspan x="0" dy="9.6">criticality</tspan></text></g>
<g id="n76" class="n"><ellipse class="c" cx="591" cy="1380" rx="51" ry="33"/><text transform="translate(591,1380) rotate(90)"><tspan x="0" y="-25.8">SE is</tspan><tspan x="0" dy="9.6">comprehensive</tspan><tspan x="0" dy="9.6">with a lot of</tspan><tspan x="0" dy="9.6">different</tspan><tspan x="0" dy="9.6">teaching and</tspan><tspan x="0" dy="9.6">learning</tspan><tspan x="0" dy="9.6">elements</tspan></text></g>
<g id="n77" class="n"><ellipse class="c" cx="142" cy="1100" rx="14" ry="27"/><text transform="translate(142,1100) rotate(90)"><tspan x="0" y="-1.8">Becoming-</tspan><tspan x="0" dy="9.6">vulnerable</tspan></text></g>
<g id="n78" class="n"><ellipse class="p" cx="110" cy="1157" rx="23" ry="57"/><text transform="translate(110,1157) rotate(90)"><tspan x="0" y="-1.8">Beliefs about teaching</tspan><tspan x="0" dy="9.6">and learning</tspan></text></g>
<g id="n79" class="n"><ellipse class="c" cx="229" cy="1162" rx="14" ry="27"/><text transform="translate(229,1162) rotate(90)"><tspan x="0" y="-1.8">Becoming-</tspan><tspan x="0" dy="9.6">composed</tspan></text></g>
<g id="n80" class="n"><ellipse class="c" cx="258" cy="1197" rx="14" ry="27"/><text transform="translate(258,1197) rotate(90)"><tspan x="0" y="-1.8">Becoming-</tspan><tspan x="0" dy="9.6">confident</tspan></text></g>
<g id="n81" class="n"><ellipse class="c" cx="324" cy="1193" rx="14" ry="27"/><text transform="translate(324,1193) rotate(90)"><tspan x="0" y="-1.8">Becoming-</tspan><tspan x="0" dy="9.6">calm</tspan></text></g>
<g id="n82" class="n"><ellipse class="g" cx="141" cy="1293" rx="14" ry="47"/><text transform="translate(141,1293) rotate(90)"><tspan x="0" y="-1.8">Mats'</tspan><tspan x="0" dy="9.6">individualisation</tspan></text></g>
</svg>
